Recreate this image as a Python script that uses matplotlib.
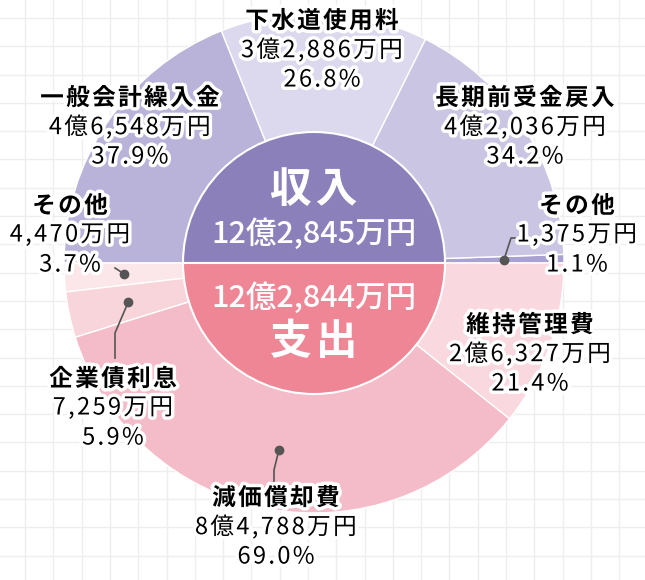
import numpy as np
import matplotlib
matplotlib.use("Agg")
import matplotlib.pyplot as plt
import matplotlib.patheffects as pe

plt.rcParams['font.family'] = ['Noto Sans CJK JP', 'DejaVu Sans']

# 収入 (上半分, 右から反時計回り)
income_names = ['その他', '長期前受金戻入', '下水道使用料', '一般会計繰入金']
income_amounts = ['1,375万円', '4億2,036万円', '3億2,886万円', '4億6,548万円']
income_pct = [1.1, 34.2, 26.8, 37.9]
income_colors = ['#a9a1d1', '#cbc5e4', '#dcd8ed', '#b9b2d9']

# 支出 (下半分, 左から反時計回り)
expense_names = ['その他', '企業債利息', '減価償却費', '維持管理費']
expense_amounts = ['4,470万円', '7,259万円', '8億4,788万円', '2億6,327万円']
expense_pct = [3.7, 5.9, 69.0, 21.4]
expense_colors = ['#fbe7e9', '#f8d4db', '#f4bbc8', '#f9d9df']

income_total = '12億2,845万円'
expense_total = '12億2,844万円'

W, H = 645, 580
fig = plt.figure(figsize=(W / 100, H / 100), dpi=100)
ax = fig.add_axes([0, 0, 1, 1])

# 方眼の背景
for gx in np.arange(25, W, 28.3):
    ax.axvline(gx, color='#eeeeee', lw=1, zorder=0)
for gy in np.arange(H - 18, 0, -28.3):
    ax.axhline(gy, color='#eeeeee', lw=1, zorder=0)

cx, cy = 314, H - 263
R = 250

vals = income_pct + expense_pct
cols = income_colors + expense_colors
wedges, _ = ax.pie(vals, colors=cols, startangle=0, counterclock=True,
                   radius=R, center=(cx, cy), frame=True,
                   wedgeprops=dict(edgecolor='white', linewidth=1))

# 中央の円
ax.pie([1, 1], colors=['#8b80ba', '#ee8695'], startangle=0, radius=131,
       center=(cx, cy), frame=True,
       wedgeprops=dict(edgecolor='white', linewidth=1.5))
ax.set_xlim(0, W)
ax.set_ylim(0, H)
ax.set_aspect('equal')
ax.axis('off')


def spaced(s, n=1):
    # 字間を少し空ける (hair space)
    return ('\u200a' * n).join(s)


ax.text(cx, H - 190, spaced('収入'), color='white', fontsize=30,
        fontweight='bold', ha='center', va='center')
ax.text(cx, H - 234, income_total, color='white', fontsize=22,
        fontweight='medium', ha='center', va='center')
ax.text(cx, H - 298, expense_total, color='white', fontsize=22,
        fontweight='medium', ha='center', va='center')
ax.text(cx, H - 342, spaced('支出'), color='white', fontsize=30,
        fontweight='bold', ha='center', va='center')

stroke = [pe.withStroke(linewidth=5, foreground='white')]


def label(x, y, name, amount, pct):
    ax.text(x, H - y, spaced(name), fontsize=17, fontweight='bold',
            ha='center', va='center', path_effects=stroke, zorder=5)
    ax.text(x, H - y - 29, spaced(amount), fontsize=17, ha='center',
            va='center', path_effects=stroke, zorder=5)
    ax.text(x, H - y - 59, spaced(f'{pct:.1f}%'), fontsize=17, ha='center',
            va='center', path_effects=stroke, zorder=5)


def mid_point(w, r=190):
    a = np.deg2rad((w.theta1 + w.theta2) / 2)
    return cx + r * np.cos(a), cy + r * np.sin(a)


def leader(w, pts):
    x0, y0 = mid_point(w)
    xs = [x0] + [p[0] for p in pts]
    ys = [y0] + [H - p[1] for p in pts]
    ax.plot(xs, ys, color='#555555', lw=1.2, zorder=4)
    ax.plot(x0, y0, 'o', color='#555555', ms=6, zorder=4)


label_pos_in = [(577, 206), (525, 98), (322, 21), (130, 98)]
label_pos_out = [(70, 206), (113, 379), (276, 498), (530, 325)]

for (x, y), n, a, p in zip(label_pos_in, income_names, income_amounts, income_pct):
    label(x, y, n, a, p)
for (x, y), n, a, p in zip(label_pos_out, expense_names, expense_amounts, expense_pct):
    label(x, y, n, a, p)

leader(wedges[0], [(511, 238), (516, 238)])
leader(wedges[4], [(115, 268)])
leader(wedges[5], [(115, 333), (115, 358)])
leader(wedges[6], [(274, 470), (274, 483)])

fig.savefig('out.png', dpi=100)
